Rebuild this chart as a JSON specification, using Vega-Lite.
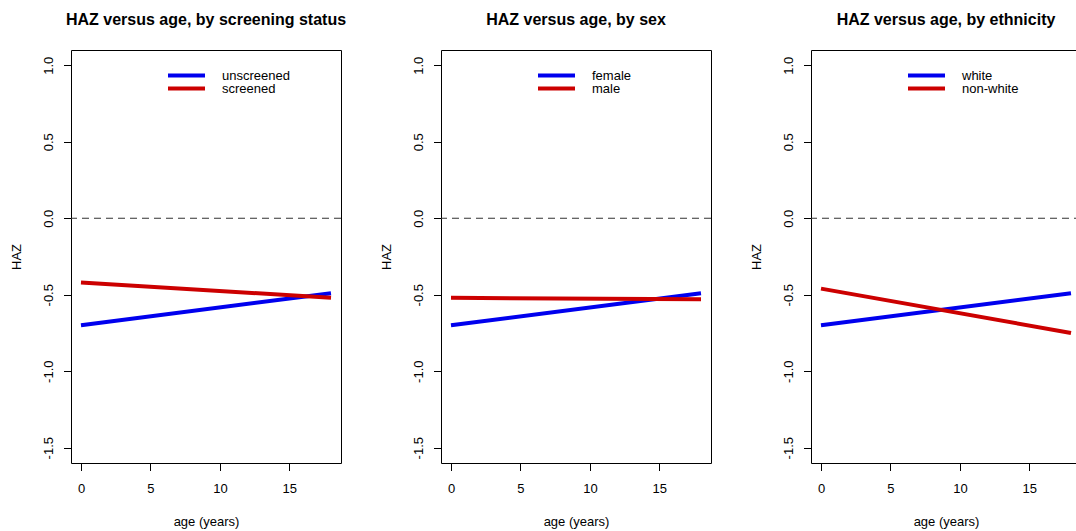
{
  "$schema": "https://vega.github.io/schema/vega-lite/v6.json",
  "padding": {"left": 9, "top": 11, "right": 0, "bottom": 0},
  "background": "white",
  "config": {
    "font": "Liberation Sans",
    "view": {"stroke": "black", "strokeWidth": 1},
    "axis": {
      "grid": false, "tickColor": "black", "domain": false,
      "labelColor": "black", "titleColor": "black",
      "labelFontSize": 13, "titleFontSize": 13, "titleFontWeight": "normal",
      "tickSize": 7.5, "tickWidth": 1
    },
    "title": {"fontSize": 16, "fontWeight": "bold", "color": "black", "anchor": "middle", "frame": "group", "baseline": "alphabetic", "offset": 22},
    "legend": {
      "orient": "none", "legendX": 95, "legendY": 20.25, "title": null,
      "symbolType": "stroke", "symbolSize": 1369, "symbolStrokeWidth": 4,
      "labelFontSize": 13, "labelColor": "black", "labelOffset": 15, "padding": 0, "labelLimit": 300,
      "rowPadding": -6, "clipHeight": 10.5
    }
  },
  "datasets": {
    "lines": [
      {"panel": "screening", "group": "unscreened", "age": 0, "haz": -0.70},
      {"panel": "screening", "group": "unscreened", "age": 18, "haz": -0.49},
      {"panel": "screening", "group": "screened", "age": 0, "haz": -0.42},
      {"panel": "screening", "group": "screened", "age": 18, "haz": -0.52},
      {"panel": "sex", "group": "female", "age": 0, "haz": -0.70},
      {"panel": "sex", "group": "female", "age": 18, "haz": -0.49},
      {"panel": "sex", "group": "male", "age": 0, "haz": -0.52},
      {"panel": "sex", "group": "male", "age": 18, "haz": -0.53},
      {"panel": "ethnicity", "group": "white", "age": 0, "haz": -0.70},
      {"panel": "ethnicity", "group": "white", "age": 18, "haz": -0.49},
      {"panel": "ethnicity", "group": "non-white", "age": 0, "haz": -0.46},
      {"panel": "ethnicity", "group": "non-white", "age": 18, "haz": -0.75}
    ]
  },
  "spacing": 100,
  "bounds": "flush",
  "resolve": {"scale": {"color": "independent", "x": "independent", "y": "independent"}, "legend": {"color": "independent"}},
  "hconcat": [
    {
      "width": 270, "height": 413,
      "title": {"text": "HAZ versus age, by screening status"},
      "data": {"name": "lines"},
      "transform": [{"filter": "datum.panel === 'screening'"}],
      "layer": [
        {
          "mark": {"type": "line", "strokeWidth": 4},
          "encoding": {
            "x": {"field": "age", "type": "quantitative", "scale": {"domain": [-0.72, 18.72], "nice": false, "zero": false},
                  "axis": {"values": [0, 5, 10, 15], "title": "age (years)", "labelPadding": 17.75, "labelBaseline": "middle", "titleY": 62, "titleBaseline": "alphabetic"}},
            "y": {"field": "haz", "type": "quantitative", "scale": {"domain": [-1.6, 1.1], "nice": false, "zero": false},
                  "axis": {"values": [-1.5, -1, -0.5, 0, 0.5, 1], "labelExpr": "datum.value < 0 ? '-' + format(-datum.value, '.1f') : format(datum.value, '.1f')",
                           "labelAngle": -90, "labelAlign": "center", "labelBaseline": "middle", "labelPadding": 15.25,
                           "title": "HAZ", "titleX": -55, "titleY": 206.5, "titleAngle": -90, "titleAlign": "center", "titleBaseline": "middle"}},
            "color": {"field": "group", "type": "nominal", "scale": {"domain": ["unscreened", "screened"], "range": ["#0000EE", "#CC0000"]}},
            "order": {"field": "age"}
          }
        },
        {
          "transform": [{"aggregate": [{"op": "count", "as": "n"}]}],
          "mark": {"type": "rule", "strokeDash": [7, 5], "color": "#333333", "strokeWidth": 1.2},
          "encoding": {"y": {"datum": 0, "type": "quantitative"}}
        }
      ]
    },
    {
      "width": 270, "height": 413,
      "title": {"text": "HAZ versus age, by sex"},
      "data": {"name": "lines"},
      "transform": [{"filter": "datum.panel === 'sex'"}],
      "layer": [
        {
          "mark": {"type": "line", "strokeWidth": 4},
          "encoding": {
            "x": {"field": "age", "type": "quantitative", "scale": {"domain": [-0.72, 18.72], "nice": false, "zero": false},
                  "axis": {"values": [0, 5, 10, 15], "title": "age (years)", "labelPadding": 17.75, "labelBaseline": "middle", "titleY": 62, "titleBaseline": "alphabetic"}},
            "y": {"field": "haz", "type": "quantitative", "scale": {"domain": [-1.6, 1.1], "nice": false, "zero": false},
                  "axis": {"values": [-1.5, -1, -0.5, 0, 0.5, 1], "labelExpr": "datum.value < 0 ? '-' + format(-datum.value, '.1f') : format(datum.value, '.1f')",
                           "labelAngle": -90, "labelAlign": "center", "labelBaseline": "middle", "labelPadding": 15.25,
                           "title": "HAZ", "titleX": -55, "titleY": 206.5, "titleAngle": -90, "titleAlign": "center", "titleBaseline": "middle"}},
            "color": {"field": "group", "type": "nominal", "scale": {"domain": ["female", "male"], "range": ["#0000EE", "#CC0000"]}},
            "order": {"field": "age"}
          }
        },
        {
          "transform": [{"aggregate": [{"op": "count", "as": "n"}]}],
          "mark": {"type": "rule", "strokeDash": [7, 5], "color": "#333333", "strokeWidth": 1.2},
          "encoding": {"y": {"datum": 0, "type": "quantitative"}}
        }
      ]
    },
    {
      "width": 270, "height": 413,
      "title": {"text": "HAZ versus age, by ethnicity"},
      "data": {"name": "lines"},
      "transform": [{"filter": "datum.panel === 'ethnicity'"}],
      "layer": [
        {
          "mark": {"type": "line", "strokeWidth": 4},
          "encoding": {
            "x": {"field": "age", "type": "quantitative", "scale": {"domain": [-0.72, 18.72], "nice": false, "zero": false},
                  "axis": {"values": [0, 5, 10, 15], "title": "age (years)", "labelPadding": 17.75, "labelBaseline": "middle", "titleY": 62, "titleBaseline": "alphabetic"}},
            "y": {"field": "haz", "type": "quantitative", "scale": {"domain": [-1.6, 1.1], "nice": false, "zero": false},
                  "axis": {"values": [-1.5, -1, -0.5, 0, 0.5, 1], "labelExpr": "datum.value < 0 ? '-' + format(-datum.value, '.1f') : format(datum.value, '.1f')",
                           "labelAngle": -90, "labelAlign": "center", "labelBaseline": "middle", "labelPadding": 15.25,
                           "title": "HAZ", "titleX": -55, "titleY": 206.5, "titleAngle": -90, "titleAlign": "center", "titleBaseline": "middle"}},
            "color": {"field": "group", "type": "nominal", "scale": {"domain": ["white", "non-white"], "range": ["#0000EE", "#CC0000"]}},
            "order": {"field": "age"}
          }
        },
        {
          "transform": [{"aggregate": [{"op": "count", "as": "n"}]}],
          "mark": {"type": "rule", "strokeDash": [7, 5], "color": "#333333", "strokeWidth": 1.2},
          "encoding": {"y": {"datum": 0, "type": "quantitative"}}
        }
      ]
    }
  ]
}
